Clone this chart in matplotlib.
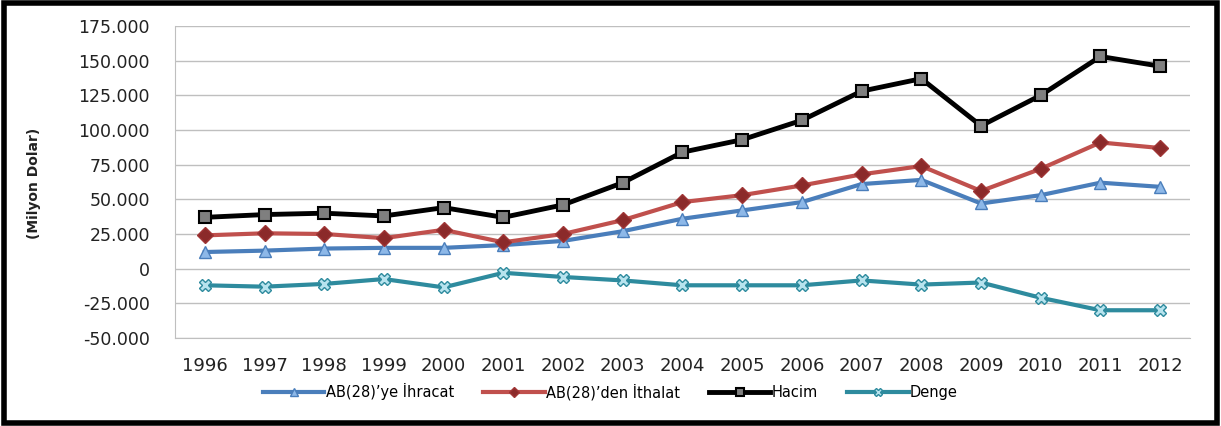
import matplotlib
matplotlib.use("Agg")
import matplotlib.pyplot as plt
from matplotlib.ticker import FuncFormatter
from matplotlib.patches import Rectangle

# veriler (milyon dolar)
yillar = ['1996', '1997', '1998', '1999', '2000', '2001', '2002', '2003', '2004',
          '2005', '2006', '2007', '2008', '2009', '2010', '2011', '2012']
ihracat = [12000, 13000, 14500, 15000, 15000, 17000, 20000, 27000, 36000,
           42000, 48000, 61000, 64000, 47000, 53000, 62000, 59000]
ithalat = [24000, 25500, 25000, 22000, 28000, 19000, 25000, 35000, 48000,
           53000, 60000, 68000, 74000, 56000, 72000, 91000, 87000]
hacim = [37000, 39000, 40000, 38000, 44000, 37000, 46000, 62000, 84000,
         93000, 107000, 128000, 137000, 103000, 125000, 153000, 146000]
denge = [-12000, -13000, -11000, -7500, -13500, -3000, -6000, -8500, -12000,
         -12000, -12000, -8500, -11500, -10000, -21000, -30000, -30000]
y_ticks = [-50000, -25000, 0, 25000, 50000, 75000, 100000, 125000, 150000, 175000]

fig = plt.figure(figsize=(12.21, 4.26), dpi=100)
ax = fig.add_axes([0.1433, 0.2066, 0.8313, 0.7324])

x = range(len(yillar))
ax.plot(x, ihracat, color='#4A7EBB', lw=3, marker='^', ms=9,
        mfc='#8DB8E8', mec='#4A7EBB', mew=1, label='AB(28)’ye İhracat', zorder=3)
ax.plot(x, ithalat, color='#C0504D', lw=3, marker='D', ms=8,
        mfc='#8B2A2A', mec='#A03535', mew=1, label='AB(28)’den İthalat', zorder=3)
ax.plot(x, hacim, color='black', lw=3.5, marker='s', ms=9,
        mfc='#7F7F7F', mec='black', mew=1.5, label='Hacim', zorder=4)
ax.plot(x, denge, color='#2E8B9E', lw=3, marker='X', ms=9,
        mfc='#B7E3EE', mec='#2E8B9E', mew=1, label='Denge', zorder=3)

ax.set_xlim(-0.5, len(yillar) - 0.5)
ax.set_ylim(-50000, 175000)
ax.set_yticks(y_ticks)
ax.yaxis.set_major_formatter(FuncFormatter(lambda v, p: f'{int(v):,}'.replace(',', '.')))
ax.set_xticks(list(x))
ax.set_xticklabels(yillar)
ax.tick_params(axis='y', length=0, pad=18, labelsize=12.5, colors='#222222')
ax.tick_params(axis='x', length=0, pad=14, labelsize=13, colors='#222222')
ax.grid(axis='y', color='#BFBFBF', lw=1)
ax.set_axisbelow(True)
for s in ['top', 'right']:
    ax.spines[s].set_visible(False)
ax.spines['left'].set_color('#BFBFBF')
ax.spines['bottom'].set_color('#BFBFBF')

fig.text(0.028, 0.57, '(Milyon Dolar)', rotation=90, ha='center', va='center',
         fontsize=10, fontweight='bold', color='#222222')

fig.legend(loc='center', bbox_to_anchor=(0.5, 0.08), ncol=4, frameon=False,
           fontsize=10.5, handlelength=4.2, handletextpad=0.1, columnspacing=2.0,
           markerscale=0.7)

fig.patches.append(Rectangle((0.003, 0.006), 0.994, 0.988, transform=fig.transFigure,
                             fill=False, ec='black', lw=4))

fig.savefig('out.png', dpi=100)
